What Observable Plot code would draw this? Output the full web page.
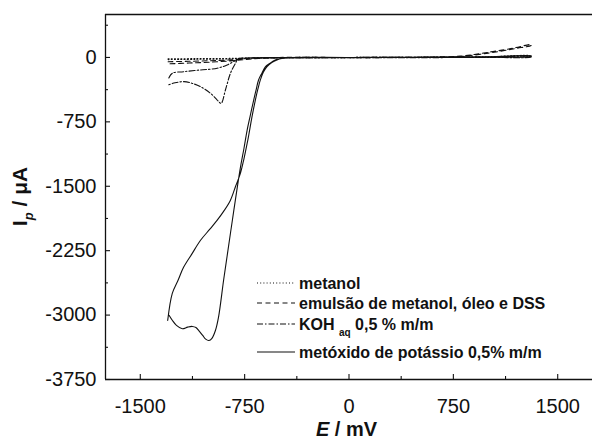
<!DOCTYPE html>
<html><head><meta charset="utf-8">
<script src="https://cdn.jsdelivr.net/npm/d3@7"></script>
<script src="https://cdn.jsdelivr.net/npm/@observablehq/plot@0.6"></script>
<style>body{margin:0;background:#fff;overflow:hidden}</style>
</head><body><div id="chart"></div>
<script>
// ---- tick values ----
const xTicks = [-1500, -750, 0, 750, 1500];
const xMinor = [-1125, -375, 375, 1125];
const yTicks = [0, -750, -1500, -2250, -3000, -3750];
const yMinor = [375, -375, -1125, -1875, -2625, -3375];
const xDomain = [-1750, 1750];
const yDomain = [-3750, 500];

// ---- series: metanol (dotted) ----
const metanolE = [-1300,-1100,-900,-750,-600,-400,0,500,1000,1300, 1300,1000,500,0,-400,-600,-750,-900,-1100,-1300];
const metanolI = [-15,-14,-12,-8,-3,0,0,3,8,20, 15,5,0,-2,-3,-6,-12,-18,-22,-25];

// ---- series: emulsão (dashed) ----
const emulsaoE = [-1300,-1150,-1000,-850,-750,-650,-500,0,500,800,900,1000,1100,1200,1310, 1310,1200,1100,1000,900,800,500,0,-500,-650,-750,-850,-1000,-1150,-1300];
const emulsaoI = [-50,-45,-38,-28,-15,-5,0,0,3,15,35,60,85,115,150, 140,105,75,50,28,8,0,-2,-5,-12,-25,-40,-55,-65,-75];

// ---- series: KOH aq (dash-dot) ----
const kohE = [-1295,-1270,-1189,-1067,-947,-876,-804,-750,-600,0,500,1000,1310, 1310,1000,500,0,-600,-750,-795,-816,-852,-888,-919,-947,-995,-1067,-1130,-1186,-1250,-1301];
const kohI = [-240,-184,-166,-146,-126,-87,-29,-10,-2,0,2,5,10, 5,0,-2,-3,-5,-8,-15,-68,-184,-379,-534,-496,-418,-341,-300,-282,-295,-321];

// ---- series: metóxido de potássio (solid) ----
const metoxE = [-1303,-1270,-1230,-1189,-1130,-1067,-1000,-947,-900,-852,-815,-780,-755,-732,-720,-697,-673,-655,-637,-615,-589,-555,-518,-480,-447,0,500,1000,1310,
  1310,1000,500,0,-400,-460,-530,-570,-600,-625,-650,-668,-685,-710,-732,-755,-780,-852,-900,-938,-960,-985,-1007,-1030,-1050,-1075,-1100,-1126,-1160,-1198,-1240,-1270,-1292];
const metoxI = [-3062,-2747,-2600,-2444,-2290,-2129,-2000,-1895,-1790,-1662,-1500,-1347,-1180,-1001,-900,-690,-496,-370,-262,-170,-107,-60,-29,-10,-2,0,3,8,17,
  12,3,0,-1,-2,-5,-29,-70,-107,-180,-262,-380,-496,-680,-846,-1060,-1277,-2047,-2580,-3027,-3180,-3270,-3295,-3280,-3240,-3190,-3145,-3132,-3140,-3159,-3120,-3060,-3004];

const seriesNames = ["metanol", "emulsão de metanol, óleo e DSS", "KOH aq 0,5 % m/m", "metóxido de potássio 0,5% m/m"];
const seriesDash = ["1,2.2", "5,3.5", "6,2,1.5,2", null];

const seriesData = [[metanolE, metanolI],[emulsaoE, emulsaoI],[kohE, kohI],[metoxE, metoxI]]
  .map(([E, I], k) => E.map((e, i) => ({series: k, E: e, I: I[i]})));

const W = 592, H = 440, mL = 105, mR = 0, mT = 14, mB = 61;
const pw = W - mL - mR, ph = H - mT - mB;
const ink = "#111";
const font = "'Liberation Sans', Arial, Helvetica, sans-serif";
const fmt = d => String(d);

const chart = Plot.plot({
  width: W, height: H,
  marginLeft: mL, marginRight: mR, marginTop: mT, marginBottom: mB,
  style: {fontFamily: font, fontSize: "20px", color: ink, background: "#fff"},
  x: {domain: xDomain},
  y: {domain: yDomain},
  marks: [
    // frame lines
    Plot.ruleX([xDomain[0]], {stroke: ink, strokeWidth: 1.3}),
    Plot.ruleY([yDomain[0]], {stroke: ink, strokeWidth: 1.3}),
    Plot.ruleY([yDomain[1]], {stroke: ink, strokeWidth: 1.3}),
    // inward ticks
    Plot.tickY(yTicks, {stroke: ink, strokeWidth: 1.1, insetRight: pw - 5}),
    Plot.tickY(yMinor, {stroke: ink, strokeWidth: 1.1, insetRight: pw - 3}),
    Plot.tickX(xTicks, {stroke: ink, strokeWidth: 1.1, insetTop: ph - 5}),
    Plot.tickX(xMinor, {stroke: ink, strokeWidth: 1.1, insetTop: ph - 3}),
    // tick labels
    Plot.axisY(yTicks, {tickSize: 0, tickPadding: 9, fontSize: 20, label: null, fill: ink, tickFormat: fmt}),
    Plot.axisX(xTicks, {tickSize: 0, tickPadding: 19, fontSize: 20, label: null, fill: ink, tickFormat: fmt}),
    // curves
    ...seriesData.map((d, k) => Plot.line(d, {
      x: "E", y: "I", stroke: ink, strokeWidth: 1.1,
      strokeDasharray: seriesDash[k], curve: "catmull-rom"
    }))
  ]
});

document.getElementById("chart").appendChild(chart);
const svg = d3.select(chart);

// y title
const yt = svg.append("text")
  .attr("transform", `translate(27, ${mT + ph / 2}) rotate(-90)`)
  .attr("text-anchor", "middle")
  .attr("font-family", font).attr("font-weight", "bold").attr("font-size", 21).attr("fill", ink);
yt.append("tspan").text("I");
yt.append("tspan").attr("font-style", "italic").attr("font-size", 13).attr("dy", 6).text("p");
yt.append("tspan").attr("dy", -6).text(" / μA");

// x title
const xt = svg.append("text")
  .attr("x", mL + pw / 2 - 2).attr("y", 436)
  .attr("text-anchor", "middle")
  .attr("font-family", font).attr("font-weight", "bold").attr("font-size", 20).attr("fill", ink);
xt.append("tspan").attr("font-style", "italic").text("E");
xt.append("tspan").text(" / mV");

// legend
const legY = [283, 303, 324, 352];
const lg = svg.append("g").attr("font-family", font).attr("font-weight", "bold").attr("font-size", 16)
  .attr("fill", ink).attr("text-anchor", "start");
seriesNames.forEach((name, k) => {
  lg.append("line").attr("x1", 257).attr("x2", 295).attr("y1", legY[k]).attr("y2", legY[k])
    .attr("stroke", ink).attr("stroke-width", 1.1).attr("stroke-dasharray", seriesDash[k]);
  const t = lg.append("text").attr("x", 299).attr("y", legY[k]).attr("dy", "0.35em").attr("text-anchor", "start");
  if (k === 2) {
    const parts = name.split(" ");
    t.append("tspan").text(parts[0] + " ");
    t.append("tspan").attr("font-size", 10).attr("dy", 6).text(parts[1]);
    t.append("tspan").attr("dy", -6).text(" " + parts.slice(2).join(" "));
  } else {
    t.text(name);
  }
});
</script>
</body></html>
